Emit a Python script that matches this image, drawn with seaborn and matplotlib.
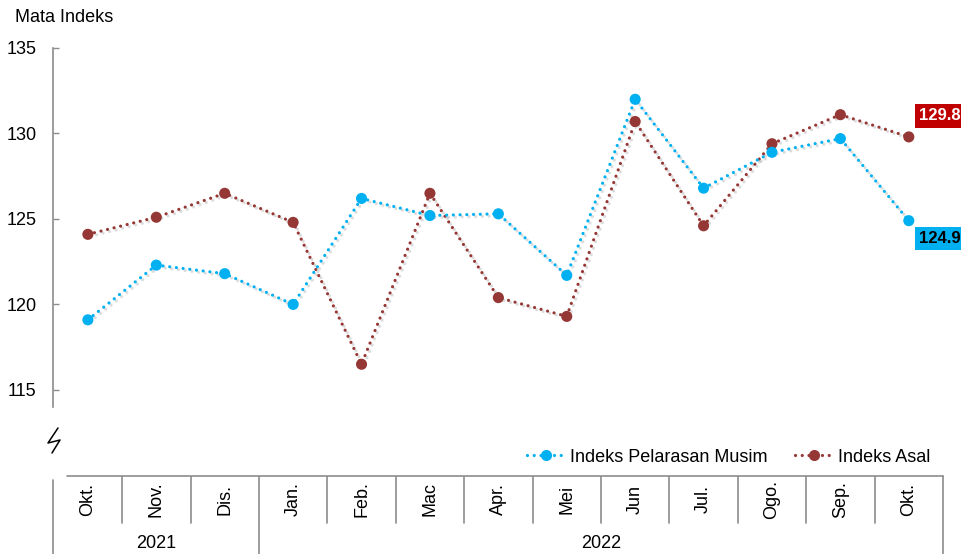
import pandas as pd
import matplotlib
matplotlib.use('Agg')
import matplotlib.pyplot as plt
import matplotlib.patheffects as pe
from matplotlib.lines import Line2D
import seaborn as sns

MONTHS = ['Okt.', 'Nov.', 'Dis.', 'Jan.', 'Feb.', 'Mac', 'Apr.',
          'Mei', 'Jun', 'Jul.', 'Ogo.', 'Sep.', 'Okt.']
YEARS = ['2021', '2022']
YEAR_SPAN = [(0, 2), (3, 12)]

SA_NAME = 'Indeks Pelarasan Musim'
RAW_NAME = 'Indeks Asal'
SA_VALUES = [119.1, 122.3, 121.8, 120.0, 126.2, 125.2, 125.3,
             121.7, 132.0, 126.8, 128.9, 129.7, 124.9]
RAW_VALUES = [124.1, 125.1, 126.5, 124.8, 116.5, 126.5, 120.4,
              119.3, 130.7, 124.6, 129.4, 131.1, 129.8]

Y_TICKS = [115, 120, 125, 130, 135]

BLUE = '#00B0F0'
RED = '#953735'
LABEL_RED = '#C00000'
GREY = '#8C8C8C'
DOTS = (0, (0.01, 2.1))

W, H = 962, 554


def build_frame():
    idx = list(range(len(MONTHS)))
    df = pd.DataFrame({
        'idx': idx * 2,
        'value': SA_VALUES + RAW_VALUES,
        'series': [SA_NAME] * len(idx) + [RAW_NAME] * len(idx),
    })
    return df


def fx(px):
    return px / W


def fy(py):
    return 1 - py / H


def main():
    sns.set_theme(style='white')
    plt.rcParams['font.family'] = ['Liberation Sans', 'DejaVu Sans']
    plt.rcParams['text.color'] = 'black'
    df = build_frame()

    fig = plt.figure(figsize=(W / 100, H / 100), dpi=100)
    ax = fig.add_axes([fx(53), fy(407), fx(943) - fx(53), fy(48) - fy(407)])

    shadow = [pe.SimpleLineShadow(offset=(1.5, -1.5), alpha=0.15, shadow_color='k'),
              pe.Normal()]
    sns.lineplot(data=df, x='idx', y='value', hue='series',
                 palette={SA_NAME: BLUE, RAW_NAME: RED},
                 hue_order=[RAW_NAME, SA_NAME],
                 marker='o', markersize=8, markeredgewidth=0,
                 linewidth=2.3, ax=ax, legend=False)
    for line in ax.lines:
        line.set_linestyle(DOTS)
        line.set_dash_capstyle('round')
        line.set_path_effects(shadow)

    ax.set_xlim(-0.51, 12.5)
    ax.set_ylim(114, 135)
    ax.set_yticks(Y_TICKS)
    ax.set_xticks([])
    ax.set_xlabel('')
    ax.set_ylabel('')
    for side in ['top', 'right', 'bottom']:
        ax.spines[side].set_visible(False)
    ax.spines['left'].set_color(GREY)
    ax.spines['left'].set_linewidth(1.2)
    ax.tick_params(axis='y', direction='in', length=4, width=1,
                   color=GREY, labelsize=13, labelcolor='black', pad=12, left=True)

    fig.text(fx(15), fy(18), 'Mata Indeks', fontsize=13, va='center', ha='left')

    # end-point labels
    last = len(MONTHS) - 1
    ax.annotate(f'{RAW_VALUES[-1]:.1f}', xy=(last, RAW_VALUES[-1]),
                xytext=(10, 21), textcoords='offset pixels',
                ha='left', va='center', fontsize=12, fontweight='bold',
                color='white', annotation_clip=False,
                bbox=dict(boxstyle='square,pad=0.25', fc=LABEL_RED, ec='none'))
    ax.annotate(f'{SA_VALUES[-1]:.1f}', xy=(last, SA_VALUES[-1]),
                xytext=(10, -18), textcoords='offset pixels',
                ha='left', va='center', fontsize=12, fontweight='bold',
                color='black', annotation_clip=False,
                bbox=dict(boxstyle='square,pad=0.25', fc=BLUE, ec='none'))

    # axis break mark
    fig.add_artist(Line2D([fx(58), fx(48), fx(60), fx(52)],
                          [fy(428), fy(443), fy(440), fy(453)],
                          color='black', lw=1.1))

    # legend
    handles = [Line2D([], [], color=c, marker='o', markersize=8,
                      markeredgewidth=0, lw=2.3, linestyle=DOTS,
                      dash_capstyle='round') for c in (BLUE, RED)]
    fig.legend(handles, [SA_NAME, RAW_NAME], loc='center right',
               bbox_to_anchor=(fx(938), fy(457)), ncol=2, frameon=False,
               fontsize=13, handlelength=2.1, handletextpad=0.3,
               columnspacing=1.5, borderaxespad=0)

    # category table below
    tab = fig.add_axes([fx(53), 0, fx(943) - fx(53), fy(476)])
    tab.set_xlim(ax.get_xlim())
    tab.set_ylim(0, 1)
    tab.axis('off')
    sep_bottom = 0.40
    tab.plot([-0.31, 12.5], [1, 1], color=GREY, lw=1.2, clip_on=False)
    tab.plot([-0.51, -0.51], [0, 0.95], color=GREY, lw=1.2, clip_on=False)
    tab.plot([12.5, 12.5], [0, 1], color=GREY, lw=1.2, clip_on=False)
    for i in range(len(MONTHS) - 1):
        bottom = 0 if i == YEAR_SPAN[0][1] else sep_bottom
        tab.plot([i + 0.5, i + 0.5], [bottom, 1], color=GREY, lw=1.2)
    for i, m in enumerate(MONTHS):
        tab.text(i, 0.70, m, rotation=90, ha='center', va='center', fontsize=13)
    for year, (a, b) in zip(YEARS, YEAR_SPAN):
        tab.text((a + b) / 2, 0.14, year, ha='center', va='center', fontsize=13)

    fig.savefig('out.png', dpi=100)


if __name__ == '__main__':
    main()
